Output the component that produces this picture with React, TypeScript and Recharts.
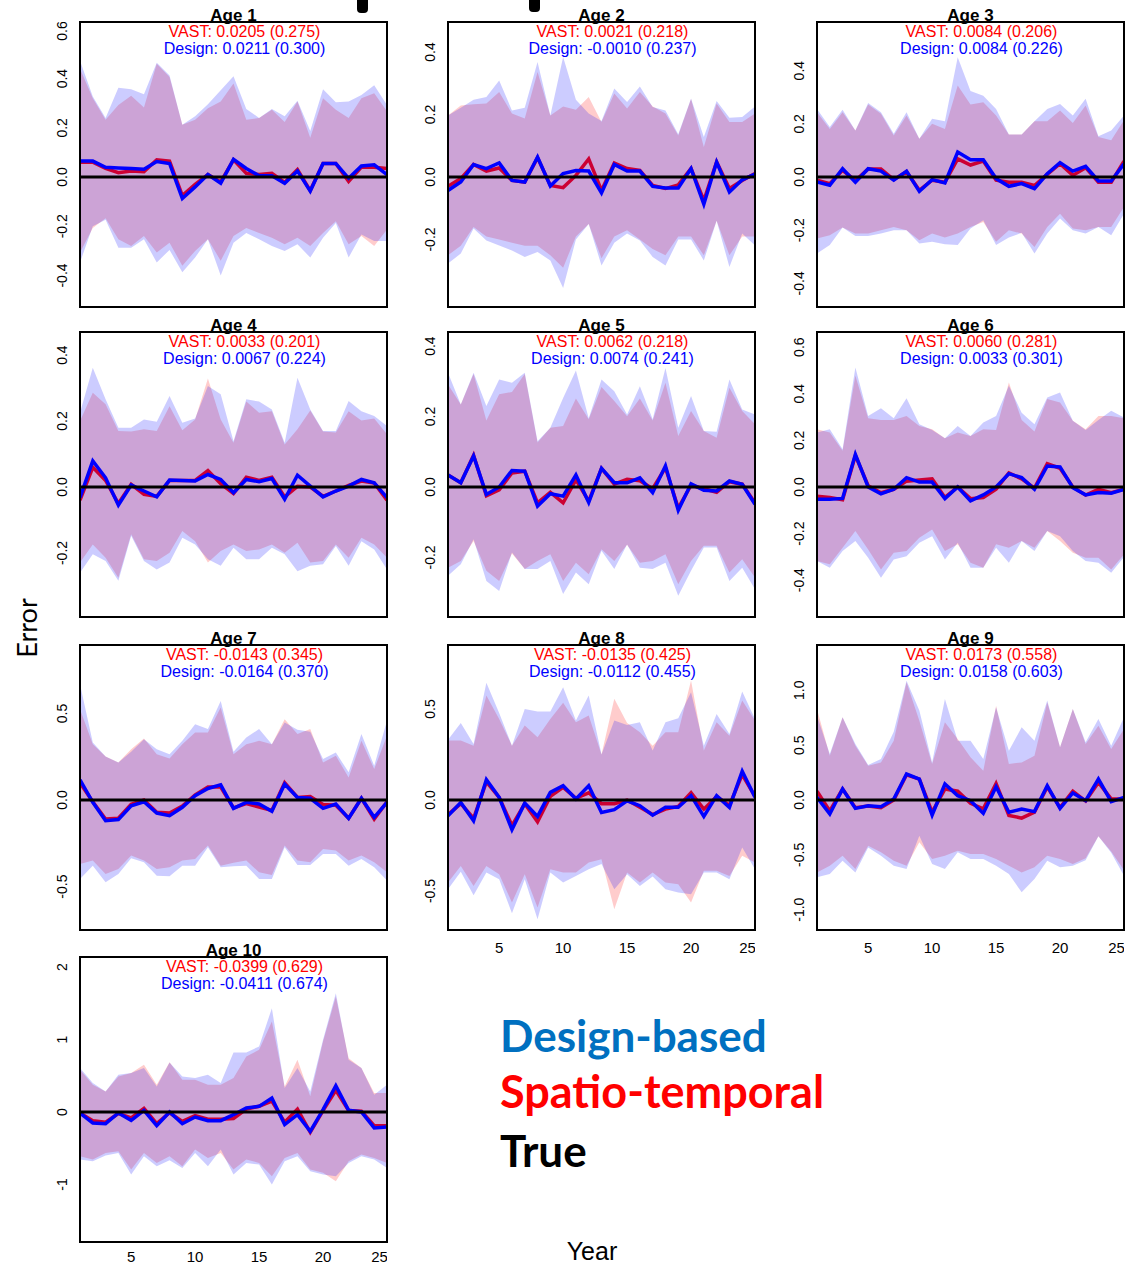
import React from "react";
import { ComposedChart, Area, Line, XAxis, YAxis, ReferenceLine } from "recharts";

const years = [1, 2, 3, 4, 5, 6, 7, 8, 9, 10, 11, 12, 13, 14, 15, 16, 17, 18, 19, 20, 21, 22, 23, 24, 25];
const xTicks = [5, 10, 15, 20, 25];

// ---- Age 1 ----
const vast1 = [0.06, 0.06, 0.035, 0.018, 0.025, 0.022, 0.07, 0.065, -0.075, -0.03, 0.01, -0.02, 0.07, 0.015, 0.01, 0.015, -0.022, 0.03, -0.055, 0.055, 0.055, -0.018, 0.04, 0.04, 0.035];
const design1 = [0.065, 0.065, 0.04, 0.037, 0.035, 0.032, 0.063, 0.055, -0.087, -0.04, 0.01, -0.025, 0.072, 0.035, 0.005, 0.005, -0.025, 0.025, -0.057, 0.055, 0.055, -0.005, 0.045, 0.05, 0.01];
const vastHi1 = [0.44, 0.32, 0.233, 0.293, 0.33, 0.283, 0.46, 0.407, 0.213, 0.233, 0.28, 0.307, 0.38, 0.233, 0.24, 0.273, 0.224, 0.307, 0.16, 0.32, 0.273, 0.24, 0.32, 0.34, 0.267];
const vastLo1 = [-0.307, -0.207, -0.167, -0.253, -0.28, -0.24, -0.307, -0.267, -0.36, -0.3, -0.253, -0.34, -0.24, -0.207, -0.227, -0.247, -0.273, -0.247, -0.28, -0.227, -0.18, -0.273, -0.24, -0.28, -0.213];
const desHi1 = [0.473, 0.327, 0.24, 0.363, 0.357, 0.336, 0.464, 0.413, 0.213, 0.247, 0.296, 0.353, 0.41, 0.277, 0.24, 0.277, 0.247, 0.31, 0.187, 0.357, 0.304, 0.307, 0.333, 0.373, 0.293];
const desLo1 = [-0.347, -0.2, -0.173, -0.287, -0.287, -0.253, -0.347, -0.296, -0.387, -0.327, -0.253, -0.4, -0.267, -0.227, -0.253, -0.28, -0.3, -0.273, -0.327, -0.247, -0.187, -0.327, -0.233, -0.26, -0.26];

// ---- Age 2 ----
const vast2 = [-0.03, -0.005, 0.04, 0.019, 0.029, -0.011, -0.016, 0.062, -0.027, -0.034, 0.005, 0.058, -0.043, 0.045, 0.027, 0.021, -0.027, -0.037, -0.025, 0.027, -0.075, 0.048, -0.037, -0.011, 0.011];
const design2 = [-0.043, -0.016, 0.04, 0.027, 0.045, -0.011, -0.016, 0.064, -0.029, 0.011, 0.021, 0.019, -0.051, 0.04, 0.019, 0.019, -0.03, -0.035, -0.035, 0.027, -0.087, 0.048, -0.048, -0.009, 0.009];
const vastHi2 = [0.197, 0.229, 0.233, 0.235, 0.272, 0.203, 0.187, 0.336, 0.197, 0.226, 0.215, 0.256, 0.176, 0.267, 0.219, 0.272, 0.226, 0.203, 0.133, 0.25, 0.096, 0.235, 0.176, 0.176, 0.203];
const vastLo2 = [-0.25, -0.22, -0.16, -0.19, -0.2, -0.21, -0.22, -0.22, -0.25, -0.29, -0.19, -0.15, -0.26, -0.19, -0.17, -0.2, -0.23, -0.25, -0.19, -0.19, -0.25, -0.14, -0.25, -0.19, -0.19];
const desHi2 = [0.197, 0.222, 0.247, 0.256, 0.309, 0.213, 0.222, 0.368, 0.197, 0.384, 0.247, 0.203, 0.179, 0.283, 0.24, 0.29, 0.224, 0.213, 0.137, 0.251, 0.128, 0.243, 0.19, 0.192, 0.226];
const desLo2 = [-0.277, -0.245, -0.165, -0.203, -0.219, -0.235, -0.256, -0.24, -0.267, -0.355, -0.2, -0.15, -0.283, -0.21, -0.181, -0.203, -0.256, -0.283, -0.2, -0.2, -0.267, -0.14, -0.288, -0.181, -0.219];

// ---- Age 3 ----
const vast3 = [-0.012, -0.025, 0.025, -0.013, 0.03, 0.03, -0.01, 0.02, -0.05, -0.012, -0.02, 0.068, 0.045, 0.06, -0.012, -0.02, -0.02, -0.032, 0.01, 0.05, 0.006, 0.035, -0.02, -0.02, 0.06];
const design3 = [-0.019, -0.031, 0.031, -0.02, 0.031, 0.022, -0.012, 0.022, -0.054, -0.01, -0.022, 0.094, 0.065, 0.065, -0.006, -0.035, -0.025, -0.044, 0.012, 0.054, 0.022, 0.04, -0.015, -0.015, 0.05];
const vastHi3 = [0.244, 0.181, 0.244, 0.175, 0.273, 0.238, 0.156, 0.231, 0.144, 0.2, 0.181, 0.344, 0.273, 0.281, 0.231, 0.16, 0.16, 0.21, 0.21, 0.25, 0.203, 0.269, 0.15, 0.138, 0.213];
const vastLo3 = [-0.231, -0.219, -0.19, -0.213, -0.213, -0.2, -0.188, -0.2, -0.238, -0.213, -0.228, -0.213, -0.188, -0.169, -0.244, -0.2, -0.213, -0.263, -0.188, -0.138, -0.194, -0.2, -0.188, -0.188, -0.113];
const desHi3 = [0.256, 0.188, 0.253, 0.175, 0.278, 0.244, 0.163, 0.244, 0.144, 0.219, 0.21, 0.45, 0.323, 0.306, 0.256, 0.16, 0.16, 0.21, 0.256, 0.275, 0.231, 0.294, 0.153, 0.175, 0.231];
const desLo3 = [-0.288, -0.256, -0.19, -0.222, -0.222, -0.213, -0.2, -0.2, -0.25, -0.244, -0.253, -0.256, -0.194, -0.163, -0.256, -0.228, -0.21, -0.288, -0.213, -0.156, -0.2, -0.213, -0.188, -0.219, -0.138];

// ---- Age 4 ----
const vast4 = [-0.04, 0.06, 0.02, -0.05, 0.008, -0.022, -0.028, 0.02, 0.02, 0.02, 0.05, 0.01, -0.02, 0.03, 0.02, 0.03, -0.03, 0.002, 0.0, -0.028, -0.012, 0.005, 0.018, 0.012, -0.04];
const design4 = [-0.032, 0.079, 0.028, -0.055, 0.006, -0.012, -0.03, 0.021, 0.02, 0.018, 0.038, 0.023, -0.017, 0.023, 0.016, 0.026, -0.037, 0.036, 0.003, -0.03, -0.012, 0.003, 0.023, 0.013, -0.032];
const vastHi4 = [0.2, 0.286, 0.251, 0.17, 0.168, 0.175, 0.17, 0.245, 0.172, 0.205, 0.329, 0.205, 0.134, 0.259, 0.225, 0.23, 0.129, 0.175, 0.232, 0.168, 0.165, 0.23, 0.202, 0.208, 0.16];
const vastLo4 = [-0.229, -0.174, -0.214, -0.275, -0.143, -0.219, -0.224, -0.199, -0.133, -0.164, -0.229, -0.194, -0.174, -0.194, -0.189, -0.174, -0.199, -0.169, -0.229, -0.224, -0.174, -0.214, -0.154, -0.174, -0.214];
const desHi4 = [0.225, 0.362, 0.266, 0.18, 0.18, 0.205, 0.198, 0.276, 0.195, 0.208, 0.306, 0.281, 0.139, 0.266, 0.259, 0.235, 0.134, 0.331, 0.235, 0.17, 0.17, 0.261, 0.23, 0.215, 0.185];
const desLo4 = [-0.26, -0.204, -0.224, -0.284, -0.148, -0.224, -0.25, -0.229, -0.154, -0.174, -0.219, -0.239, -0.184, -0.219, -0.219, -0.184, -0.204, -0.255, -0.239, -0.234, -0.179, -0.239, -0.164, -0.189, -0.25];

// ---- Age 5 ----
const vast5 = [0.034, 0.012, 0.09, -0.025, -0.008, 0.04, 0.045, -0.045, -0.015, -0.045, 0.02, -0.04, 0.053, 0.008, 0.022, 0.018, -0.005, 0.055, -0.06, 0.005, -0.005, -0.015, 0.015, 0.008, -0.045];
const design5 = [0.034, 0.012, 0.088, -0.021, 0.0, 0.047, 0.045, -0.054, -0.019, -0.026, 0.034, -0.044, 0.053, 0.012, 0.012, 0.026, -0.016, 0.06, -0.066, 0.009, -0.009, -0.011, 0.017, 0.008, -0.049];
const vastHi5 = [0.291, 0.234, 0.321, 0.189, 0.263, 0.27, 0.321, 0.126, 0.168, 0.173, 0.251, 0.192, 0.284, 0.244, 0.201, 0.251, 0.189, 0.296, 0.145, 0.216, 0.159, 0.14, 0.282, 0.216, 0.178];
const vastLo5 = [-0.229, -0.21, -0.153, -0.238, -0.267, -0.189, -0.233, -0.21, -0.191, -0.267, -0.215, -0.248, -0.177, -0.21, -0.164, -0.215, -0.21, -0.191, -0.276, -0.21, -0.167, -0.167, -0.243, -0.205, -0.257];
const desHi5 = [0.324, 0.234, 0.324, 0.23, 0.305, 0.296, 0.324, 0.13, 0.168, 0.253, 0.331, 0.195, 0.305, 0.272, 0.206, 0.286, 0.192, 0.338, 0.168, 0.258, 0.159, 0.157, 0.305, 0.22, 0.206];
const desLo5 = [-0.252, -0.219, -0.148, -0.267, -0.295, -0.186, -0.233, -0.233, -0.21, -0.304, -0.243, -0.276, -0.181, -0.233, -0.163, -0.229, -0.233, -0.215, -0.309, -0.238, -0.172, -0.172, -0.267, -0.229, -0.29];

// ---- Age 6 ----
const vast6 = [-0.04, -0.045, -0.055, 0.135, 0.005, -0.025, -0.01, 0.025, 0.03, 0.035, -0.045, 0.0, -0.05, -0.045, -0.01, 0.06, 0.035, -0.005, 0.1, 0.08, 0.0, -0.035, -0.01, -0.025, -0.01];
const design6 = [-0.053, -0.053, -0.049, 0.14, 0.0, -0.029, -0.01, 0.04, 0.021, 0.021, -0.05, 0.0, -0.06, -0.034, 0.0, 0.057, 0.04, -0.01, 0.09, 0.086, -0.003, -0.034, -0.024, -0.027, -0.01];
const vastHi6 = [0.248, 0.234, 0.155, 0.477, 0.295, 0.287, 0.287, 0.305, 0.262, 0.248, 0.209, 0.234, 0.219, 0.248, 0.244, 0.448, 0.287, 0.238, 0.377, 0.362, 0.284, 0.248, 0.305, 0.305, 0.295];
const vastLo6 = [-0.318, -0.332, -0.261, -0.189, -0.268, -0.354, -0.282, -0.275, -0.218, -0.182, -0.275, -0.246, -0.325, -0.347, -0.246, -0.261, -0.232, -0.261, -0.189, -0.232, -0.282, -0.304, -0.304, -0.354, -0.29];
const desHi6 = [0.234, 0.248, 0.162, 0.513, 0.305, 0.338, 0.295, 0.381, 0.269, 0.244, 0.209, 0.262, 0.219, 0.277, 0.305, 0.434, 0.319, 0.269, 0.384, 0.405, 0.284, 0.244, 0.287, 0.327, 0.298];
const desLo6 = [-0.318, -0.347, -0.275, -0.232, -0.304, -0.39, -0.311, -0.297, -0.239, -0.211, -0.311, -0.239, -0.347, -0.347, -0.261, -0.325, -0.232, -0.275, -0.189, -0.211, -0.275, -0.318, -0.325, -0.368, -0.3];

// ---- Age 7 ----
const vast7 = [0.1, -0.01, -0.11, -0.105, -0.025, 0.0, -0.07, -0.075, -0.035, 0.03, 0.075, 0.075, -0.045, -0.02, -0.04, -0.06, 0.1, 0.015, 0.02, -0.025, -0.03, -0.105, 0.01, -0.11, -0.01];
const design7 = [0.117, -0.013, -0.119, -0.113, -0.033, -0.01, -0.075, -0.09, -0.042, 0.025, 0.067, 0.088, -0.048, -0.013, -0.023, -0.065, 0.092, 0.015, 0.01, -0.048, -0.023, -0.106, 0.01, -0.1, -0.013];
const vastHi7 = [0.525, 0.323, 0.252, 0.217, 0.294, 0.356, 0.265, 0.24, 0.323, 0.39, 0.39, 0.535, 0.265, 0.323, 0.342, 0.323, 0.467, 0.381, 0.41, 0.217, 0.256, 0.131, 0.342, 0.179, 0.371];
const vastLo7 = [-0.369, -0.35, -0.427, -0.398, -0.321, -0.35, -0.398, -0.388, -0.35, -0.34, -0.263, -0.379, -0.363, -0.35, -0.417, -0.433, -0.263, -0.35, -0.36, -0.283, -0.292, -0.35, -0.321, -0.36, -0.417];
const desHi7 = [0.669, 0.333, 0.252, 0.217, 0.279, 0.352, 0.294, 0.265, 0.342, 0.438, 0.41, 0.573, 0.279, 0.362, 0.41, 0.323, 0.448, 0.406, 0.394, 0.237, 0.275, 0.16, 0.381, 0.198, 0.458];
const desLo7 = [-0.456, -0.379, -0.475, -0.427, -0.337, -0.36, -0.437, -0.44, -0.379, -0.379, -0.273, -0.388, -0.383, -0.379, -0.456, -0.456, -0.273, -0.375, -0.375, -0.312, -0.312, -0.379, -0.34, -0.388, -0.465];

// ---- Age 8 ----
const vast8 = [-0.08, -0.02, -0.1, 0.1, 0.015, -0.14, -0.02, -0.12, 0.02, 0.07, 0.01, 0.04, -0.02, -0.02, 0.0, -0.04, -0.08, -0.05, -0.035, 0.04, -0.05, 0.02, -0.03, 0.14, 0.02];
const design8 = [-0.086, -0.013, -0.114, 0.112, 0.015, -0.163, -0.017, -0.09, 0.042, 0.079, 0.006, 0.079, -0.068, -0.053, -0.004, -0.031, -0.083, -0.04, -0.04, 0.024, -0.09, 0.024, -0.04, 0.158, 0.015];
const vastHi8 = [0.327, 0.327, 0.299, 0.574, 0.446, 0.299, 0.409, 0.345, 0.446, 0.534, 0.428, 0.464, 0.25, 0.556, 0.424, 0.372, 0.299, 0.372, 0.372, 0.657, 0.272, 0.428, 0.354, 0.547, 0.437];
const vastLo8 = [-0.453, -0.362, -0.472, -0.362, -0.407, -0.563, -0.407, -0.591, -0.38, -0.398, -0.398, -0.343, -0.325, -0.6, -0.398, -0.453, -0.398, -0.453, -0.462, -0.563, -0.389, -0.389, -0.417, -0.306, -0.343];
const desHi8 = [0.332, 0.424, 0.308, 0.644, 0.479, 0.299, 0.501, 0.486, 0.486, 0.62, 0.437, 0.574, 0.25, 0.437, 0.413, 0.428, 0.272, 0.428, 0.45, 0.593, 0.299, 0.473, 0.363, 0.596, 0.446];
const desLo8 = [-0.49, -0.394, -0.523, -0.398, -0.435, -0.622, -0.435, -0.655, -0.398, -0.453, -0.417, -0.38, -0.352, -0.49, -0.407, -0.472, -0.42, -0.49, -0.508, -0.517, -0.398, -0.398, -0.435, -0.261, -0.38];

// ---- Age 9 ----
const vast9 = [0.08, -0.1, 0.1, -0.07, -0.055, -0.07, 0.0, 0.23, 0.19, -0.11, 0.1, 0.08, -0.03, -0.08, 0.15, -0.14, -0.165, -0.11, 0.12, -0.07, 0.08, -0.01, 0.16, 0.01, 0.01];
const design9 = [0.024, -0.128, 0.1, -0.076, -0.052, -0.061, 0.009, 0.237, 0.191, -0.137, 0.146, 0.04, -0.006, -0.122, 0.122, -0.112, -0.082, -0.106, 0.131, -0.076, 0.064, -0.006, 0.191, -0.015, 0.024];
const vastHi9 = [0.83, 0.404, 0.754, 0.495, 0.313, 0.343, 0.541, 1.073, 0.723, 0.328, 0.708, 0.556, 0.389, 0.267, 0.86, 0.328, 0.343, 0.404, 0.891, 0.48, 0.83, 0.511, 0.678, 0.465, 0.647];
const vastLo9 = [-0.66, -0.599, -0.508, -0.629, -0.416, -0.477, -0.553, -0.599, -0.386, -0.538, -0.508, -0.462, -0.492, -0.492, -0.538, -0.599, -0.66, -0.614, -0.508, -0.538, -0.584, -0.53, -0.33, -0.47, -0.64];
const desHi9 = [0.769, 0.419, 0.754, 0.511, 0.319, 0.374, 0.623, 1.088, 0.815, 0.343, 0.921, 0.541, 0.541, 0.374, 0.845, 0.45, 0.663, 0.541, 0.906, 0.48, 0.83, 0.526, 0.739, 0.495, 0.754];
const desLo9 = [-0.705, -0.675, -0.553, -0.66, -0.432, -0.508, -0.599, -0.629, -0.325, -0.584, -0.629, -0.477, -0.538, -0.538, -0.599, -0.675, -0.842, -0.72, -0.553, -0.614, -0.599, -0.55, -0.33, -0.48, -0.69];

// ---- Age 10 ----
const vast10 = [-0.014, -0.12, -0.14, -0.02, -0.08, 0.05, -0.16, -0.01, -0.13, -0.05, -0.1, -0.1, -0.09, 0.04, 0.08, 0.15, -0.14, 0.04, -0.28, 0.02, 0.3, 0.02, 0.01, -0.19, -0.19];
const design10 = [-0.014, -0.151, -0.161, -0.014, -0.115, 0.023, -0.188, 0.0, -0.161, -0.069, -0.119, -0.119, -0.037, 0.055, 0.078, 0.193, -0.174, -0.037, -0.266, 0.032, 0.362, 0.023, 0.0, -0.22, -0.206];
const vastHi10 = [0.583, 0.376, 0.284, 0.491, 0.537, 0.651, 0.376, 0.688, 0.445, 0.445, 0.376, 0.376, 0.468, 0.766, 0.858, 1.248, 0.353, 0.72, 0.216, 0.972, 1.592, 0.743, 0.606, 0.261, 0.261];
const vastLo10 = [-0.61, -0.656, -0.564, -0.541, -0.794, -0.564, -0.702, -0.61, -0.748, -0.518, -0.633, -0.564, -0.794, -0.656, -0.702, -0.885, -0.633, -0.564, -0.794, -0.839, -0.954, -0.679, -0.587, -0.633, -0.702];
const desHi10 = [0.606, 0.399, 0.284, 0.514, 0.537, 0.606, 0.353, 0.683, 0.491, 0.468, 0.514, 0.399, 0.821, 0.821, 0.904, 1.431, 0.33, 0.606, 0.284, 0.995, 1.638, 0.72, 0.606, 0.239, 0.376];
const desLo10 = [-0.656, -0.679, -0.601, -0.564, -0.862, -0.61, -0.748, -0.665, -0.771, -0.564, -0.748, -0.518, -0.862, -0.702, -0.725, -1.0, -0.679, -0.61, -0.817, -0.862, -0.885, -0.702, -0.61, -0.656, -0.771];

// summary lines shown under each title
const vastStats = ["0.0205 (0.275)", "0.0021 (0.218)", "0.0084 (0.206)", "0.0033 (0.201)", "0.0062 (0.218)", "0.0060 (0.281)", "-0.0143 (0.345)", "-0.0135 (0.425)", "0.0173 (0.558)", "-0.0399 (0.629)"];
const designStats = ["0.0211 (0.300)", "-0.0010 (0.237)", "0.0084 (0.226)", "0.0067 (0.224)", "0.0074 (0.241)", "0.0033 (0.301)", "-0.0164 (0.370)", "-0.0112 (0.455)", "0.0158 (0.603)", "-0.0411 (0.674)"];

const yDomains: [number, number][] = [
  [-0.528, 0.63], [-0.416, 0.496], [-0.489, 0.583], [-0.394, 0.47], [-0.369, 0.44],
  [-0.558, 0.665], [-0.751, 0.896], [-0.714, 0.852], [-1.185, 1.413], [-1.793, 2.138],
];
const yTicks = [
  [-0.4, -0.2, 0, 0.2, 0.4, 0.6],
  [-0.4, -0.2, 0, 0.2, 0.4],
  [-0.4, -0.2, 0, 0.2, 0.4],
  [-0.2, 0, 0.2, 0.4],
  [-0.2, 0, 0.2, 0.4],
  [-0.4, -0.2, 0, 0.2, 0.4, 0.6],
  [-0.5, 0, 0.5],
  [-0.5, 0, 0.5],
  [-1, -0.5, 0, 0.5, 1],
  [-1, 0, 1, 2],
];

const series = [
  [vast1, design1, vastLo1, vastHi1, desLo1, desHi1],
  [vast2, design2, vastLo2, vastHi2, desLo2, desHi2],
  [vast3, design3, vastLo3, vastHi3, desLo3, desHi3],
  [vast4, design4, vastLo4, vastHi4, desLo4, desHi4],
  [vast5, design5, vastLo5, vastHi5, desLo5, desHi5],
  [vast6, design6, vastLo6, vastHi6, desLo6, desHi6],
  [vast7, design7, vastLo7, vastHi7, desLo7, desHi7],
  [vast8, design8, vastLo8, vastHi8, desLo8, desHi8],
  [vast9, design9, vastLo9, vastHi9, desLo9, desHi9],
  [vast10, design10, vastLo10, vastHi10, desLo10, desHi10],
];

// panel geometry (plot box in page pixels)
const colLeft = [80, 448, 817];
const rowTop = [22, 332, 645, 957];
const BOX_W = 307;
const BOX_H = 285;
const AXIS_W = 40;
const X_AXIS_H = 30;
const bottomPanels = [7, 8, 9];

const ARIAL = "'Liberation Sans', Arial, sans-serif";
const CALIBRI = "Lato, 'Open Sans', sans-serif";

function YTick({ y, payload, whole }: any) {
  const label = whole ? String(payload.value) : payload.value.toFixed(1);
  return (
    <text x={27} y={y} transform={`rotate(-90, 27, ${y})`} textAnchor="middle" fontSize={14} fontFamily={ARIAL} fill="#000">
      {label}
    </text>
  );
}

function Panel({ idx }: { idx: number }) {
  const [vast, design, vLo, vHi, dLo, dHi] = series[idx];
  const data = years.map((year, i) => ({
    year,
    vast: vast[i],
    design: design[i],
    vastBand: [vLo[i], vHi[i]],
    designBand: [dLo[i], dHi[i]],
  }));
  const showX = bottomPanels.includes(idx);
  const left = colLeft[idx % 3] - AXIS_W;
  const top = rowTop[Math.floor(idx / 3)];
  return (
    <div style={{ position: "absolute", left, top }}>
      <ComposedChart
        width={AXIS_W + BOX_W}
        height={BOX_H + (showX ? X_AXIS_H : 0)}
        data={data}
        margin={{ top: 0, right: 0, bottom: 0, left: 0 }}
      >
        <XAxis
          dataKey="year"
          type="number"
          domain={[1, 25]}
          ticks={xTicks}
          hide={!showX}
          height={X_AXIS_H}
          axisLine={false}
          tickLine={false}
          tickMargin={idx === 9 ? 3 : 6}
          tick={{ fontSize: 15, fill: "#000", fontFamily: ARIAL }}
          allowDataOverflow
        />
        <YAxis
          type="number"
          domain={yDomains[idx]}
          ticks={yTicks[idx]}
          width={AXIS_W}
          axisLine={false}
          tickLine={false}
          allowDataOverflow
          tick={(p: any) => <YTick {...p} whole={idx === 9} />}
        />
        <Area dataKey="vastBand" type="linear" stroke="none" fill="#ff0000" fillOpacity={0.2} isAnimationActive={false} activeDot={false} />
        <Line dataKey="vast" type="linear" stroke="#cc0033" strokeWidth={3.5} dot={false} activeDot={false} isAnimationActive={false} />
        <Area dataKey="designBand" type="linear" stroke="none" fill="#0000ff" fillOpacity={0.2} isAnimationActive={false} activeDot={false} />
        <Line dataKey="design" type="linear" stroke="#0000ff" strokeWidth={3.5} dot={false} activeDot={false} isAnimationActive={false} />
        <ReferenceLine y={0} stroke="#000" strokeWidth={3} />
      </ComposedChart>
    </div>
  );
}

export default function App() {
  const panels = years.slice(0, 10).map((_, i) => i);
  return (
    <div style={{ position: "absolute", left: 0, top: 0, width: 1140, height: 1266, background: "#fff", overflow: "hidden" }}>
      {panels.map((i) => (
        <Panel key={i} idx={i} />
      ))}
      <svg width={1140} height={1266} style={{ position: "absolute", left: 0, top: 0, pointerEvents: "none" }}>
        {panels.map((i) => {
          const x = colLeft[i % 3];
          const y = rowTop[Math.floor(i / 3)];
          const cx = x + BOX_W / 2;
          return (
            <g key={i}>
              <rect x={x} y={y} width={BOX_W} height={BOX_H} fill="none" stroke="#000" strokeWidth={2} />
              <text x={cx} y={y - 1} textAnchor="middle" fontSize={17} fontWeight="bold" fontFamily={ARIAL} fill="#000">
                {`Age ${i + 1}`}
              </text>
              <text x={cx + 11} y={y + 15} textAnchor="middle" fontSize={16} fontFamily={ARIAL} fill="#ff0000">
                {`VAST: ${vastStats[i]}`}
              </text>
              <text x={cx + 11} y={y + 32} textAnchor="middle" fontSize={16} fontFamily={ARIAL} fill="#0000ff">
                {`Design: ${designStats[i]}`}
              </text>
            </g>
          );
        })}
        <rect x={357} y={-6} width={11} height={19} rx={4} fill="#000" />
        <rect x={529} y={-6} width={11} height={18} rx={4} fill="#000" />
        <text x={37} y={628} transform="rotate(-90, 37, 628)" textAnchor="middle" fontSize={27} fontFamily={CALIBRI} fill="#000">
          Error
        </text>
        <text x={592} y={1260} textAnchor="middle" fontSize={25} fontFamily={ARIAL} fill="#000">
          Year
        </text>
        <text x={500} y={1052} fontSize={44} fontWeight="bold" fontFamily={CALIBRI} fill="#0070c0">
          Design-based
        </text>
        <text x={500} y={1108} fontSize={45} fontWeight="bold" fontFamily={CALIBRI} fill="#ff0000">
          Spatio-temporal
        </text>
        <text x={500} y={1167} fontSize={44} fontWeight="bold" fontFamily={CALIBRI} fill="#000">
          True
        </text>
      </svg>
    </div>
  );
}
